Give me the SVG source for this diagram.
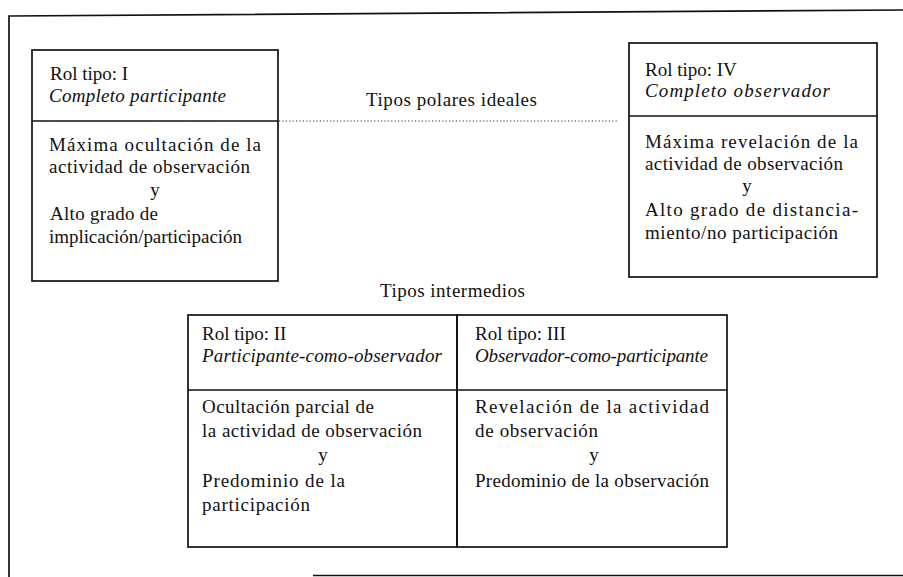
<svg xmlns="http://www.w3.org/2000/svg" width="903" height="577" viewBox="0 0 903 577">
<style>
.bx{fill:none;stroke:#111;stroke-width:1.7}
.ln{stroke:#111;stroke-width:1.7;fill:none}
.t{font-family:"Liberation Serif","Times New Roman",serif;font-size:19px;fill:#111}
.i{font-style:italic}
.c{text-anchor:middle}
.dot{stroke:#333;stroke-width:1.2;stroke-dasharray:1.2,2.2;fill:none}
</style>
<rect width="903" height="577" fill="#fff"/>
<g id="frame">
<path class="ln" d="M9 577 V16 L903 10"/>
<path class="ln" d="M313 575.5 H903"/>
</g>
<g id="connectors">
<path class="dot" d="M279 121 H618"/>
</g>
<g id="label-polares">
<text class="t c" x="451.5" y="106" textLength="171" lengthAdjust="spacing">Tipos polares ideales</text>
</g>
<g id="label-intermedios">
<text class="t c" x="452.5" y="297" textLength="145" lengthAdjust="spacing">Tipos intermedios</text>
</g>
<g id="rol-I">
<rect class="bx" x="32" y="50" width="246" height="231"/>
<path class="ln" d="M32 121 H278"/>
<text class="t" x="50" y="80">Rol tipo: I</text>
<text class="t i" x="49" y="102" textLength="177" lengthAdjust="spacing">Completo participante</text>
<text class="t" x="49" y="151" textLength="212" lengthAdjust="spacing">Máxima ocultación de la</text>
<text class="t" x="49" y="173" textLength="201" lengthAdjust="spacing">actividad de observación</text>
<text class="t c" x="155" y="196">y</text>
<text class="t" x="50" y="220" textLength="108" lengthAdjust="spacing">Alto grado de</text>
<text class="t" x="49" y="243" textLength="193" lengthAdjust="spacing">implicación/participación</text>
</g>
<g id="rol-IV">
<rect class="bx" x="629" y="43" width="248" height="234"/>
<path class="ln" d="M629 116 H877"/>
<text class="t" x="645" y="76">Rol tipo: IV</text>
<text class="t i" x="645" y="97" textLength="185" lengthAdjust="spacing">Completo observador</text>
<text class="t" x="645" y="148" textLength="213" lengthAdjust="spacing">Máxima revelación de la</text>
<text class="t" x="645" y="170" textLength="198" lengthAdjust="spacing">actividad de observación</text>
<text class="t c" x="747" y="192">y</text>
<text class="t" x="645" y="216" textLength="213" lengthAdjust="spacing">Alto grado de distancia-</text>
<text class="t" x="645" y="239" textLength="193" lengthAdjust="spacing">miento/no participación</text>
</g>
<g id="rol-II">
<rect class="bx" x="188" y="315" width="269" height="232"/>
<path class="ln" d="M188 390 H457"/>
<text class="t" x="202" y="340">Rol tipo: II</text>
<text class="t i" x="202" y="362" textLength="240" lengthAdjust="spacing">Participante-como-observador</text>
<text class="t" x="202" y="413" textLength="172" lengthAdjust="spacing">Ocultación parcial de</text>
<text class="t" x="202" y="437" textLength="220" lengthAdjust="spacing">la actividad de observación</text>
<text class="t c" x="323" y="461">y</text>
<text class="t" x="202" y="487" textLength="143" lengthAdjust="spacing">Predominio de la</text>
<text class="t" x="202" y="511" textLength="108" lengthAdjust="spacing">participación</text>
</g>
<g id="rol-III">
<rect class="bx" x="457" y="315" width="270" height="232"/>
<path class="ln" d="M457 390 H727"/>
<text class="t" x="475" y="340">Rol tipo: III</text>
<text class="t i" x="475" y="362" textLength="233" lengthAdjust="spacing">Observador-como-participante</text>
<text class="t" x="475" y="413" textLength="234" lengthAdjust="spacing">Revelación de la actividad</text>
<text class="t" x="475" y="437" textLength="123" lengthAdjust="spacing">de observación</text>
<text class="t c" x="594" y="461">y</text>
<text class="t" x="475" y="487" textLength="234" lengthAdjust="spacing">Predominio de la observación</text>
</g>
</svg>
